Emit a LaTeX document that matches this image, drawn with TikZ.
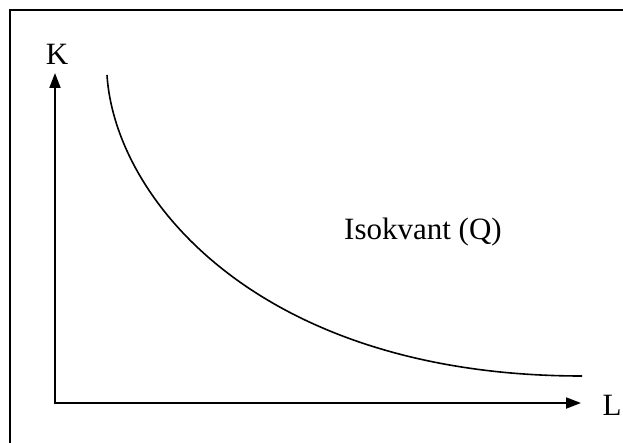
\documentclass[tikz,border=0pt]{standalone}
\usepackage{fontspec}
\setmainfont{Liberation Serif}
\usetikzlibrary{arrows.meta}

\begin{document}
\begin{tikzpicture}[x=1pt,y=-1pt,
    axisline/.style={line width=2pt,{Triangle[length=15pt,width=11pt]}-{Triangle[length=15pt,width=11pt]}},
    frameline/.style={line width=2pt},
    curveline/.style={line width=1.6pt},
    axislabel/.style={font=\fontsize{31}{36}\selectfont, inner sep=0pt, anchor=base}]
  \useasboundingbox (0,0) rectangle (623,443);
  % frame
  \draw[frameline] (10,443) -- (10,10) -- (623,10);
  % axes
  \coordinate (O) at (55,403);
  \coordinate (Ktip) at (55,73);
  \coordinate (Ltip) at (581,403);
  \draw[axisline] (Ktip) -- (O) -- (Ltip);
  \node[axislabel] (K) at (57,65) {K};
  \node[axislabel] (L) at (612,415) {L};
  % isoquant
  \coordinate (Qstart) at (107,75);
  \coordinate (Qend) at (582,376);
  \draw[curveline] (Qstart) .. controls (115,200) and (260,376) .. (Qend);
  \node[axislabel] (Q) at (423,240) {Isokvant (Q)};
\end{tikzpicture}
\end{document}
